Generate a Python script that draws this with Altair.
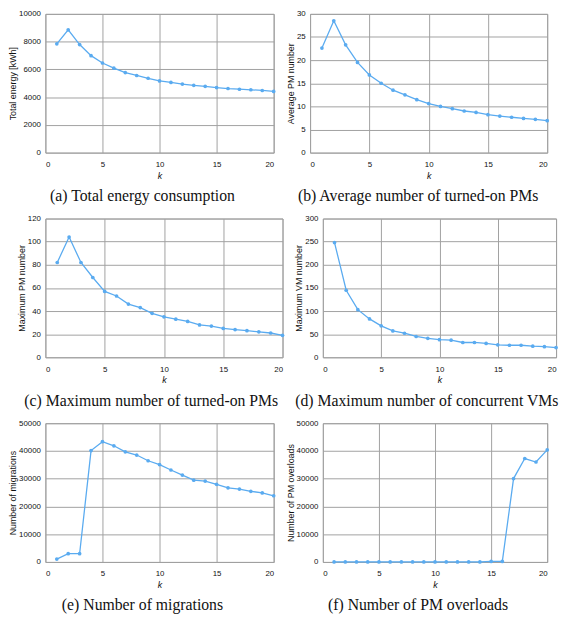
import altair as alt
import pandas as pd

# ---- data ----
K = [1, 2, 3, 4, 5, 6, 7, 8, 9, 10, 11, 12, 13, 14, 15, 16, 17, 18, 19, 20]

total_energy = [7840, 8850, 7790, 6990, 6460, 6090, 5770, 5560, 5360, 5170,
                5060, 4940, 4850, 4780, 4690, 4620, 4570, 4530, 4480, 4410]
avg_pm = [22.6, 28.5, 23.3, 19.5, 16.8, 15.0, 13.5, 12.5, 11.45, 10.6,
          10.0, 9.5, 9.0, 8.7, 8.2, 7.9, 7.65, 7.4, 7.2, 6.9]
max_pm = [82, 104, 82, 69, 57, 53, 46, 43, 38, 35,
          33, 31, 28, 27, 25, 24, 23, 22, 21, 19]
max_vm = [248, 145, 103, 83, 68, 57, 52, 45, 41, 38,
          37, 32, 32, 30, 27, 26, 26, 24, 23, 21]
migrations = [1030, 2980, 2980, 40140, 43350, 41860, 39680, 38530, 36470, 35090,
              33140, 31310, 29470, 29130, 27980, 26720, 26260, 25460, 24890, 23850]
overloads = [0, 0, 0, 0, 0, 0, 0, 0, 0, 0,
             0, 0, 0, 0, 200, 200, 30050, 37270, 36010, 40370]

X_TICKS = [0, 5, 10, 15, 20]

LINE_COLOR = "#5aabf0"
GRID_COLOR = "#a0a0a0"
H = 141


def panel(values, ymax, ystep, ytitle, caption, width, dx=0):
    df = pd.DataFrame({"k": K, "v": values})
    x = alt.X("k:Q", scale=alt.Scale(domain=[0, 20], nice=False),
              axis=alt.Axis(values=X_TICKS, title="k"))
    y = alt.Y("v:Q", scale=alt.Scale(domain=[0, ymax], nice=False),
              axis=alt.Axis(values=list(range(0, ymax + 1, ystep)), title=ytitle, format="d"))
    base = alt.Chart(df)
    line = base.mark_line(color=LINE_COLOR, strokeWidth=1.3).encode(x=x, y=y)
    pts = base.mark_circle(color=LINE_COLOR, size=14, opacity=1).encode(x=x, y=y)
    return alt.layer(line, pts).properties(
        width=width, height=H,
        title=alt.TitleParams(caption, orient="bottom", frame="bounds", anchor="middle",
                              offset=8, dx=dx),
    )


row1 = alt.hconcat(
    panel(total_energy, 10000, 2000, "Total energy [kWh]", "(a) Total energy consumption", 232),
    panel(avg_pm, 30, 5, "Average PM number", "(b) Average number of turned-on PMs", 241),
    spacing=8,
)
row2 = alt.hconcat(
    panel(max_pm, 120, 20, "Maximum PM number", "(c) Maximum number of turned-on PMs", 241),
    panel(max_vm, 300, 50, "Maximum VM number", "(d) Maximum number of concurrent VMs", 237),
    spacing=8,
)
row3 = alt.hconcat(
    panel(migrations, 50000, 10000, "Number of migrations", "(e) Number of migrations", 232),
    panel(overloads, 50000, 10000, "Number of PM overloads", "(f) Number of PM overloads", 228),
    spacing=8,
)

chart = alt.vconcat(row1, row2, row3, spacing=9).properties(
    padding={"left": 0, "top": -4, "right": 0, "bottom": 0}
).configure_view(
    stroke=GRID_COLOR, strokeWidth=1
).configure_axis(
    domain=False, ticks=False, grid=True, gridColor=GRID_COLOR, gridWidth=1, gridOpacity=1,
    labelFont="Liberation Sans", labelFontSize=8, labelColor="#111111",
    titleFont="Liberation Sans", titleFontWeight="normal", titleColor="#111111",
).configure_axisX(
    labelPadding=8, titlePadding=3, titleFontStyle="italic", titleFontSize=9,
).configure_axisY(
    labelPadding=5, titlePadding=1, titleFontSize=9,
).configure_title(
    font="Liberation Serif", fontSize=16, fontWeight="normal", color="#111111",
)

chart.save("out.html", embed_options={"renderer": "svg", "actions": False})
